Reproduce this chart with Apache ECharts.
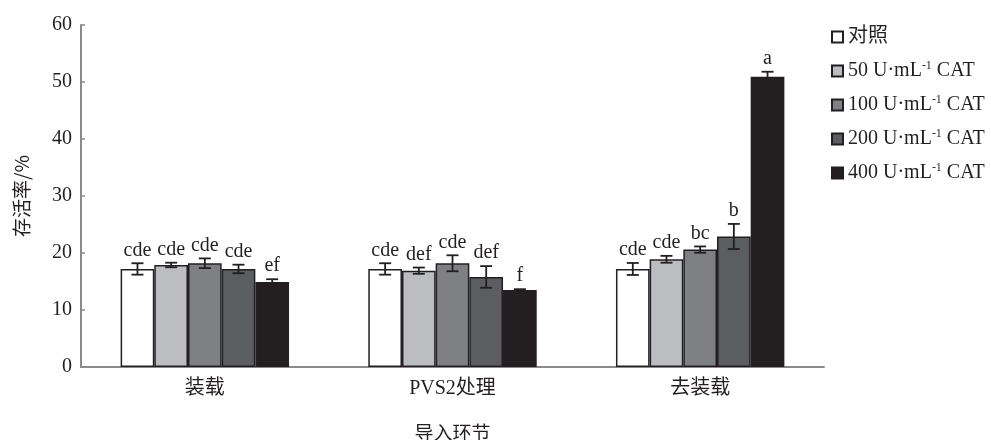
<!DOCTYPE html>
<html>
<head>
<meta charset="utf-8">
<script src="https://cdn.jsdelivr.net/npm/echarts@6/dist/echarts.min.js"></script>
<style>
  html, body { margin: 0; padding: 0; background: #fff; }
  #chart { width: 991px; height: 440px; }
</style>
</head>
<body>
<div id="chart"></div>
<script>
// 导入环节
const stages = ['装载', 'PVS2处理', '去装载'];
// 处理组
const groups = ['对照', '50 U·mL-1 CAT', '100 U·mL-1 CAT', '200 U·mL-1 CAT', '400 U·mL-1 CAT'];
const colors = ['#ffffff', '#bcbdc0', '#7f8084', '#5c5d60', '#231f20'];

// 存活率 (%) per group, one value per stage
const ctrl = [17.2, 17.2, 17.2];
const cat50 = [17.9, 16.9, 18.9];
const cat100 = [18.2, 18.2, 20.6];
const cat200 = [17.2, 15.8, 22.9];
const cat400 = [14.9, 13.5, 50.9];

// standard errors
const ctrlErr = [1.0, 1.0, 1.05];
const cat50Err = [0.4, 0.55, 0.6];
const cat100Err = [0.85, 1.4, 0.55];
const cat200Err = [0.75, 1.9, 2.2];
const cat400Err = [0.5, 0.15, 0.9];

// significance letters
const ctrlSig = ['cde', 'cde', 'cde'];
const cat50Sig = ['cde', 'def', 'cde'];
const cat100Sig = ['cde', 'cde', 'bc'];
const cat200Sig = ['cde', 'def', 'b'];
const cat400Sig = ['ef', 'f', 'a'];

const yTicks = [0, 10, 20, 30, 40, 50, 60];

const values = [ctrl, cat50, cat100, cat200, cat400];
const errs = [ctrlErr, cat50Err, cat100Err, cat200Err, cat400Err];
const sigs = [ctrlSig, cat50Sig, cat100Sig, cat200Sig, cat400Sig];

const serif = '"Liberation Serif", "Noto Sans CJK SC", serif';
const cjk = '"Noto Sans CJK SC", sans-serif';
const ink = '#231f20';
const catGap = 0.32;

const chart = echarts.init(document.getElementById('chart'));

const barSeries = groups.map((name, i) => ({
  name: name,
  type: 'bar',
  data: values[i],
  barGap: '0%',
  barCategoryGap: (catGap * 100) + '%',
  itemStyle: { color: colors[i], borderColor: ink, borderWidth: 1.5 },
  emphasis: { disabled: true }
}));

const errSeries = groups.map((name, si) => ({
  type: 'custom',
  data: values[si].map((v, k) => [k, v, errs[si][k]]),
  encode: { x: 0, y: 1 },
  z: 5,
  silent: true,
  renderItem: (params, api) => {
    const k = api.value(0), v = api.value(1), e = api.value(2);
    const c = api.coord([k, v]);
    const bw = api.size([1, 0])[0] * (1 - catGap) / groups.length;
    const x = c[0] + (si - 2) * bw;
    const top = api.coord([k, v + e])[1];
    const bot = api.coord([k, v - e])[1];
    const cap = 6;
    const ls = { stroke: ink, lineWidth: 1.8 };
    return {
      type: 'group',
      children: [
        { type: 'line', shape: { x1: x, y1: top, x2: x, y2: bot }, style: ls },
        { type: 'line', shape: { x1: x - cap, y1: top, x2: x + cap, y2: top }, style: ls },
        { type: 'line', shape: { x1: x - cap, y1: bot, x2: x + cap, y2: bot }, style: ls },
        { type: 'text', style: {
            text: sigs[si][params.dataIndex], x: x, y: top - 3,
            align: 'center', verticalAlign: 'bottom',
            fontSize: 20, fontFamily: serif, fill: ink } }
      ]
    };
  }
}));

chart.setOption({
  animation: false,
  grid: { left: 81, right: 167, top: 25, bottom: 73, outerBoundsMode: 'none' },
  legend: {
    orient: 'vertical',
    left: 826,
    top: 22,
    itemWidth: 11,
    itemHeight: 11,
    itemGap: 13,
    icon: 'rect',
    data: groups,
    selectedMode: false,
    formatter: (name) => {
      const p = name.split('-1');
      if (p.length < 2) return '{t|' + name + '}';
      return '{t|' + p[0] + '}{s|-1}{t|' + p[1] + '}';
    },
    textStyle: {
      color: ink,
      rich: {
        t: { fontSize: 20, fontFamily: serif, color: ink, lineHeight: 22 },
        s: { fontSize: 12, fontFamily: serif, color: ink, lineHeight: 22, verticalAlign: 'top', padding: [0, 0, 7, 0] }
      }
    }
  },
  xAxis: {
    type: 'category',
    data: stages,
    name: '导入环节',
    nameLocation: 'middle',
    nameGap: 56,
    nameTextStyle: { fontSize: 19, fontFamily: cjk, color: ink },
    axisLine: { lineStyle: { color: '#8a8a8c', width: 2 } },
    axisTick: { show: false },
    axisLabel: { margin: 12, fontSize: 20, fontFamily: serif, color: ink }
  },
  yAxis: {
    type: 'value',
    min: yTicks[0],
    max: yTicks[yTicks.length - 1],
    interval: 10,
    name: '存活率/%',
    nameLocation: 'middle',
    nameGap: 50,
    nameRotate: 90,
    nameTextStyle: { fontSize: 19, fontFamily: cjk, color: ink },
    axisLine: { show: true, lineStyle: { color: '#8a8a8c', width: 2 } },
    axisTick: { show: true, inside: true, length: 4, lineStyle: { color: '#8a8a8c', width: 1.5 } },
    splitLine: { show: false },
    axisLabel: { margin: 9, fontSize: 20, fontFamily: serif, color: ink }
  },
  series: barSeries.concat(errSeries)
});
</script>
</body>
</html>
